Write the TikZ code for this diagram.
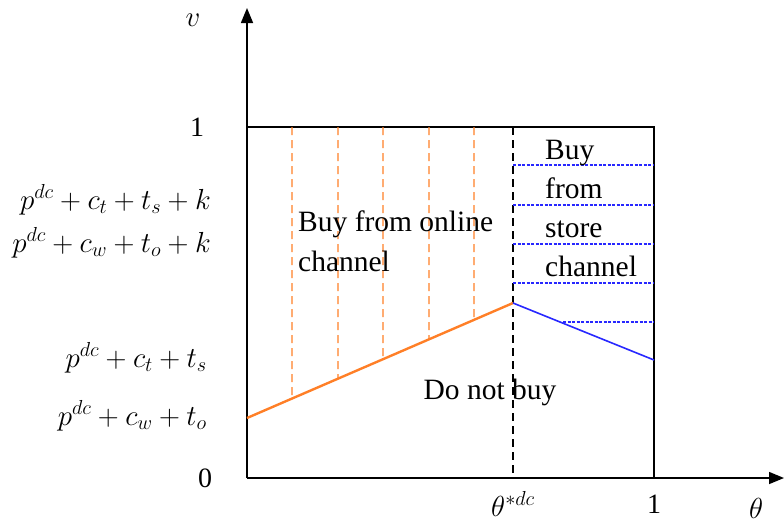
\RequirePackage{fix-cm}
\documentclass[tikz,border=0pt]{standalone}
\usepackage{fontspec}
\setmainfont{Liberation Serif}
\usepackage{tikz}
\usetikzlibrary{arrows.meta,calc,positioning}

\definecolor{onlineorange}{RGB}{255,127,39}
\definecolor{storeblue}{RGB}{40,40,255}

\tikzset{
  axisline/.style={line width=1.5pt,-{Triangle[length=15pt,width=12pt]}},
  hatchorange/.style={onlineorange,line width=1.4pt,dash pattern=on 8pt off 5pt},
  hatchblue/.style={storeblue,line width=1.3pt,dash pattern=on 3pt off 1.5pt},
  ticklabel/.style={font=\fontsize{28}{32}\selectfont,inner sep=0pt},
  mathlabel/.style={font=\fontsize{29}{34}\selectfont,inner sep=0pt},
  regiontext/.style={font=\fontsize{29.5}{40}\selectfont,inner sep=0pt,align=left}
}

\begin{document}
\begin{tikzpicture}[x=1pt,y=-1pt]
  \useasboundingbox (0,0) rectangle (784,523);
  % corner points
  \coordinate (O) at (247,478);
  \coordinate (top) at (247,127);
  \coordinate (topR) at (654,127);
  \coordinate (botR) at (654,478);
  \coordinate (kinkT) at (513,127);
  \coordinate (kinkB) at (513,478);
  \coordinate (lowL) at (247,418);
  \coordinate (kink) at (513,303);
  \coordinate (lowR) at (654,360);
  % axes
  \draw[axisline] (O) -- (247,8) coordinate (vtip);
  \draw[axisline] (O) -- (784,478) coordinate (htip);
  % box and split
  \draw[line width=1.6pt] (top) -- (topR) -- (botR);
  \draw[line width=1.3pt,dash pattern=on 8pt off 5pt] (kinkT) -- (kinkB);
  % online hatch
  \foreach \xx in {292,338,383,429,474}
    \draw[hatchorange] (\xx,127) -- ($(lowL)!{(\xx-247)/266}!(kink)$);
  % store hatch
  \foreach \yy in {165,205,244,283}
    \draw[hatchblue] (513,\yy) -- (654,\yy);
  \draw[hatchblue] (563,322) -- (654,322);
  % boundaries
  \draw[onlineorange,line width=2.4pt] (lowL) -- (kink);
  \draw[storeblue,line width=1.6pt] (kink) -- (lowR);
  % axis labels
  \node[mathlabel] (vlab) at (193,20) {$v$};
  \node[ticklabel] (one) at (197,127) {1};
  \node[ticklabel] (zero) at (205,478) {0};
  \node[mathlabel] (thstar) at (513,504) {$\theta^{*dc}$};
  \node[ticklabel] (oneR) at (654,504) {1};
  \node[mathlabel] (thlab) at (756,508) {$\theta$};
  \node[mathlabel,anchor=east] (lvA) at (211,200) {$p^{dc}+c_t+t_s+k$};
  \node[mathlabel,anchor=east] (lvB) at (211,243) {$p^{dc}+c_w+t_o+k$};
  \node[mathlabel,anchor=east] (lvC) at (207,358) {$p^{dc}+c_t+t_s$};
  \node[mathlabel,anchor=east] (lvD) at (207,416) {$p^{dc}+c_w+t_o$};
  % regions
  \node[regiontext,anchor=west] (online) at (298,241) {Buy from online\\channel};
  \node[regiontext,anchor=west,font=\fontsize{29.5}{39}\selectfont] (store) at (545,208) {Buy\\from\\store\\channel};
  \node[regiontext] (nobuy) at (490,392) {Do not buy};
\end{tikzpicture}
\end{document}
